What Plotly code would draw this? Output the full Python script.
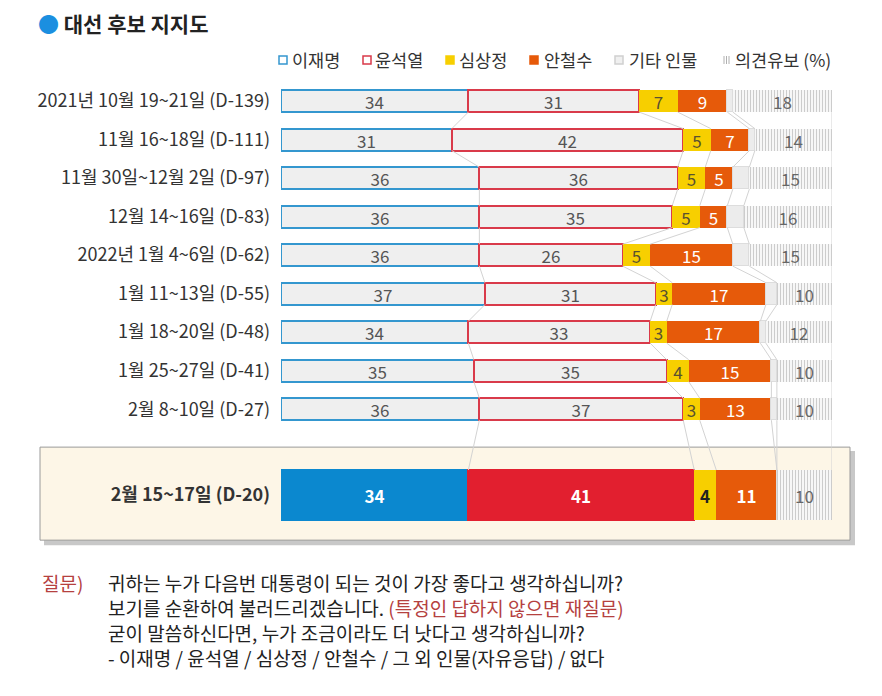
import plotly.graph_objects as go

# survey rows (top to bottom), last one is the highlighted latest poll
labels = ["2021년 10월 19~21일 (D-139)", "11월 16~18일 (D-111)", "11월 30일~12월 2일 (D-97)",
          "12월 14~16일 (D-83)", "2022년 1월 4~6일 (D-62)", "1월 11~13일 (D-55)",
          "1월 18~20일 (D-48)", "1월 25~27일 (D-41)", "2월 8~10일 (D-27)", "2월 15~17일 (D-20)"]

lee = [34, 31, 36, 36, 36, 37, 34, 35, 36, 34]
yoon = [31, 42, 36, 35, 26, 31, 33, 35, 37, 41]
sim = [7, 5, 5, 5, 5, 3, 3, 4, 3, 4]
ahn = [9, 7, 5, 5, 15, 17, 17, 15, 13, 11]
undecided = [18, 14, 15, 16, 15, 10, 12, 10, 10, 10]
other = [100 - a - b - c - d - e for a, b, c, d, e in zip(lee, yoon, sim, ahn, undecided)]

names = ["이재명", "윤석열", "심상정", "안철수", "기타 인물", "의견유보 (%)"]

FONT = "Noto Sans CJK KR"
PAGE_W, PAGE_H = 882, 696
OFF = 8  # page body margin
PL, PR, PT = 281, 832, 78  # plot area edges in page pixels
PITCH = 38.5
Y0, Y1 = -0.6, 11.5
plot_h = (Y1 - Y0) * PITCH
n = len(labels)
ypos = list(range(n - 1)) + [10.23]
widths = [0.57] * (n - 1) + [1.3]

BLUE_LINE, RED_LINE = "#3497cf", "#d93a4a"
YELLOW, ORANGE = "#f7cf00", "#e65a0a"


def px_x(px):
    return (px - PL) / (PR - PL)


def px_y(py):
    return 1 - (py - PT) / plot_h


def per_row(normal, highlight):
    return [normal] * (n - 1) + [highlight]


fig = go.Figure()

series = [
    dict(v=lee, fill=per_row("#efefef", "#0b88cf"), line=per_row(BLUE_LINE, "#0b88cf"), lw=2,
         tc=per_row("#555555", "white"), show=True),
    dict(v=yoon, fill=per_row("#efefef", "#e21f2f"), line=per_row(RED_LINE, "#e21f2f"), lw=2,
         tc=per_row("#555555", "white"), show=True),
    dict(v=sim, fill=per_row(YELLOW, YELLOW), line=per_row(YELLOW, YELLOW), lw=0,
         tc=per_row("#5a5230", "#222222"), show=True),
    dict(v=ahn, fill=per_row(ORANGE, ORANGE), line=per_row(ORANGE, ORANGE), lw=0,
         tc=per_row("white", "white"), show=True),
    dict(v=other, fill=per_row("#ececec", "#ececec"), line=per_row("#dddddd", "#dddddd"), lw=1,
         tc=per_row("#555555", "#555555"), show=False),
]

for name, s in zip(names[:5], series):
    if s["show"]:
        txt = [str(v) for v in s["v"][:-1]] + ["<b>%d</b>" % s["v"][-1]]
    else:
        txt = [""] * n
    fig.add_trace(go.Bar(
        y=ypos, x=s["v"], orientation="h", width=widths, name=name,
        marker=dict(color=s["fill"], line=dict(color=s["line"], width=s["lw"])),
        text=txt, textposition="inside", insidetextanchor="middle", textangle=0,
        textfont=dict(family=FONT, size=17, color=s["tc"]),
        hoverinfo="skip"))

fig.add_trace(go.Bar(
    y=ypos, x=undecided, orientation="h", width=widths, name=names[5],
    marker=dict(color="white", line=dict(width=0),
                pattern=dict(shape="|", fgcolor="#9a9a9a", bgcolor="white", size=3, solidity=0.45)),
    text=[str(v) for v in undecided], textposition="inside", insidetextanchor="middle", textangle=0,
    textfont=dict(family=FONT, size=17, color="#666666"),
    hoverinfo="skip"))

# connector lines between consecutive rows at each segment boundary
cols = [lee, yoon, sim, ahn, other, undecided]
cum = []
for i in range(n):
    run, row = 0, []
    for c in cols:
        run += c[i]
        row.append(run)
    cum.append(row)
lx, ly = [], []
for i in range(n - 1):
    for k in range(len(cols)):
        lx += [cum[i][k], cum[i + 1][k], None]
        ly += [ypos[i] + widths[i] / 2, ypos[i + 1] - widths[i + 1] / 2, None]
fig.add_trace(go.Scatter(x=lx, y=ly, mode="lines", line=dict(color="#d3d3d3", width=1),
                         hoverinfo="skip", showlegend=False))

# highlighted box with shadow
fig.add_shape(type="rect", xref="paper", yref="paper", layer="below",
              x0=px_x(44), x1=px_x(855), y0=px_y(545), y1=px_y(451),
              fillcolor="#c8c8c8", line=dict(width=0))
fig.add_shape(type="rect", xref="paper", yref="paper", layer="below",
              x0=px_x(40), x1=px_x(850), y0=px_y(540), y1=px_y(447),
              fillcolor="#fdf6e7", line=dict(color="#9a9a9a", width=1))

ann = []
ann.append(dict(x=px_x(36), y=px_y(23), xref="paper", yref="paper", xanchor="left", yanchor="middle",
                showarrow=False, font=dict(family=FONT, size=21, color="#222222"),
                text="<span style='color:#1b8fe0'>●</span> <b>대선 후보 지지도</b>"))

# legend: small swatches drawn as shapes, names as annotations
LEG_Y = 60
legend_items = [  # (swatch left px, fill, outline, text left px)
    (279, "white", BLUE_LINE, 290),
    (363, "white", RED_LINE, 373),
    (446, YELLOW, YELLOW, 457),
    (530, ORANGE, ORANGE, 542),
    (615, "#f0f0f0", "#d0d0d0", 627),
]
for (sx, fill, outline, tx), name in zip(legend_items, names[:5]):
    fig.add_shape(type="rect", xref="paper", yref="paper",
                  x0=px_x(sx), x1=px_x(sx + 8), y0=px_y(LEG_Y + 4), y1=px_y(LEG_Y - 4),
                  fillcolor=fill, line=dict(color=outline, width=1.5))
    ann.append(dict(x=px_x(tx), y=px_y(LEG_Y), xref="paper", yref="paper", xanchor="left",
                    yanchor="middle", showarrow=False,
                    font=dict(family=FONT, size=17.5, color="#333333"), text=name))
for hx in (724, 726.5, 729):
    fig.add_shape(type="line", xref="paper", yref="paper",
                  x0=px_x(hx), x1=px_x(hx), y0=px_y(LEG_Y + 4), y1=px_y(LEG_Y - 4),
                  line=dict(color="#b0b0b0", width=1))
ann.append(dict(x=px_x(733), y=px_y(LEG_Y), xref="paper", yref="paper", xanchor="left",
                yanchor="middle", showarrow=False,
                font=dict(family=FONT, size=17.5, color="#333333"), text=names[5]))

q_lines = [
    "귀하는 누가 다음번 대통령이 되는 것이 가장 좋다고 생각하십니까?",
    "보기를 순환하여 불러드리겠습니다. <span style='color:#b5413f'>(특정인 답하지 않으면 재질문)</span>",
    "굳이 말씀하신다면, 누가 조금이라도 더 낫다고 생각하십니까?",
    "- 이재명 / 윤석열 / 심상정 / 안철수 / 그 외 인물(자유응답) / 없다",
]
ann.append(dict(x=px_x(40), y=px_y(582), xref="paper", yref="paper", xanchor="left", yanchor="middle",
                showarrow=False, font=dict(family=FONT, size=19, color="#b5413f"), text="질문)"))
for j, t in enumerate(q_lines):
    ann.append(dict(x=px_x(106), y=px_y(582 + 25 * j), xref="paper", yref="paper", xanchor="left",
                    yanchor="middle", showarrow=False, font=dict(family=FONT, size=19, color="#222222"),
                    text=t))

ticktext = labels[:-1] + ["<b>%s</b>" % labels[-1]]

fig.update_layout(
    width=PAGE_W - OFF, height=PAGE_H - OFF, barmode="stack", showlegend=False, bargap=0,
    paper_bgcolor="white", plot_bgcolor="rgba(0,0,0,0)",
    margin=dict(l=PL - OFF, r=PAGE_W - PR, t=PT - OFF, b=PAGE_H - PT - plot_h, autoexpand=False),
    font=dict(family=FONT, color="#333333"),
    uniformtext=dict(minsize=16, mode="show"),
    xaxis=dict(range=[0, 100], visible=False, fixedrange=True),
    yaxis=dict(range=[Y1, Y0], tickvals=ypos, ticktext=ticktext, showgrid=False, zeroline=False,
               showline=False, ticks="", ticklabelstandoff=10,
               tickfont=dict(family=FONT, size=18, color="#333333")),
    annotations=ann,
)

fig.write_html("out.html")
